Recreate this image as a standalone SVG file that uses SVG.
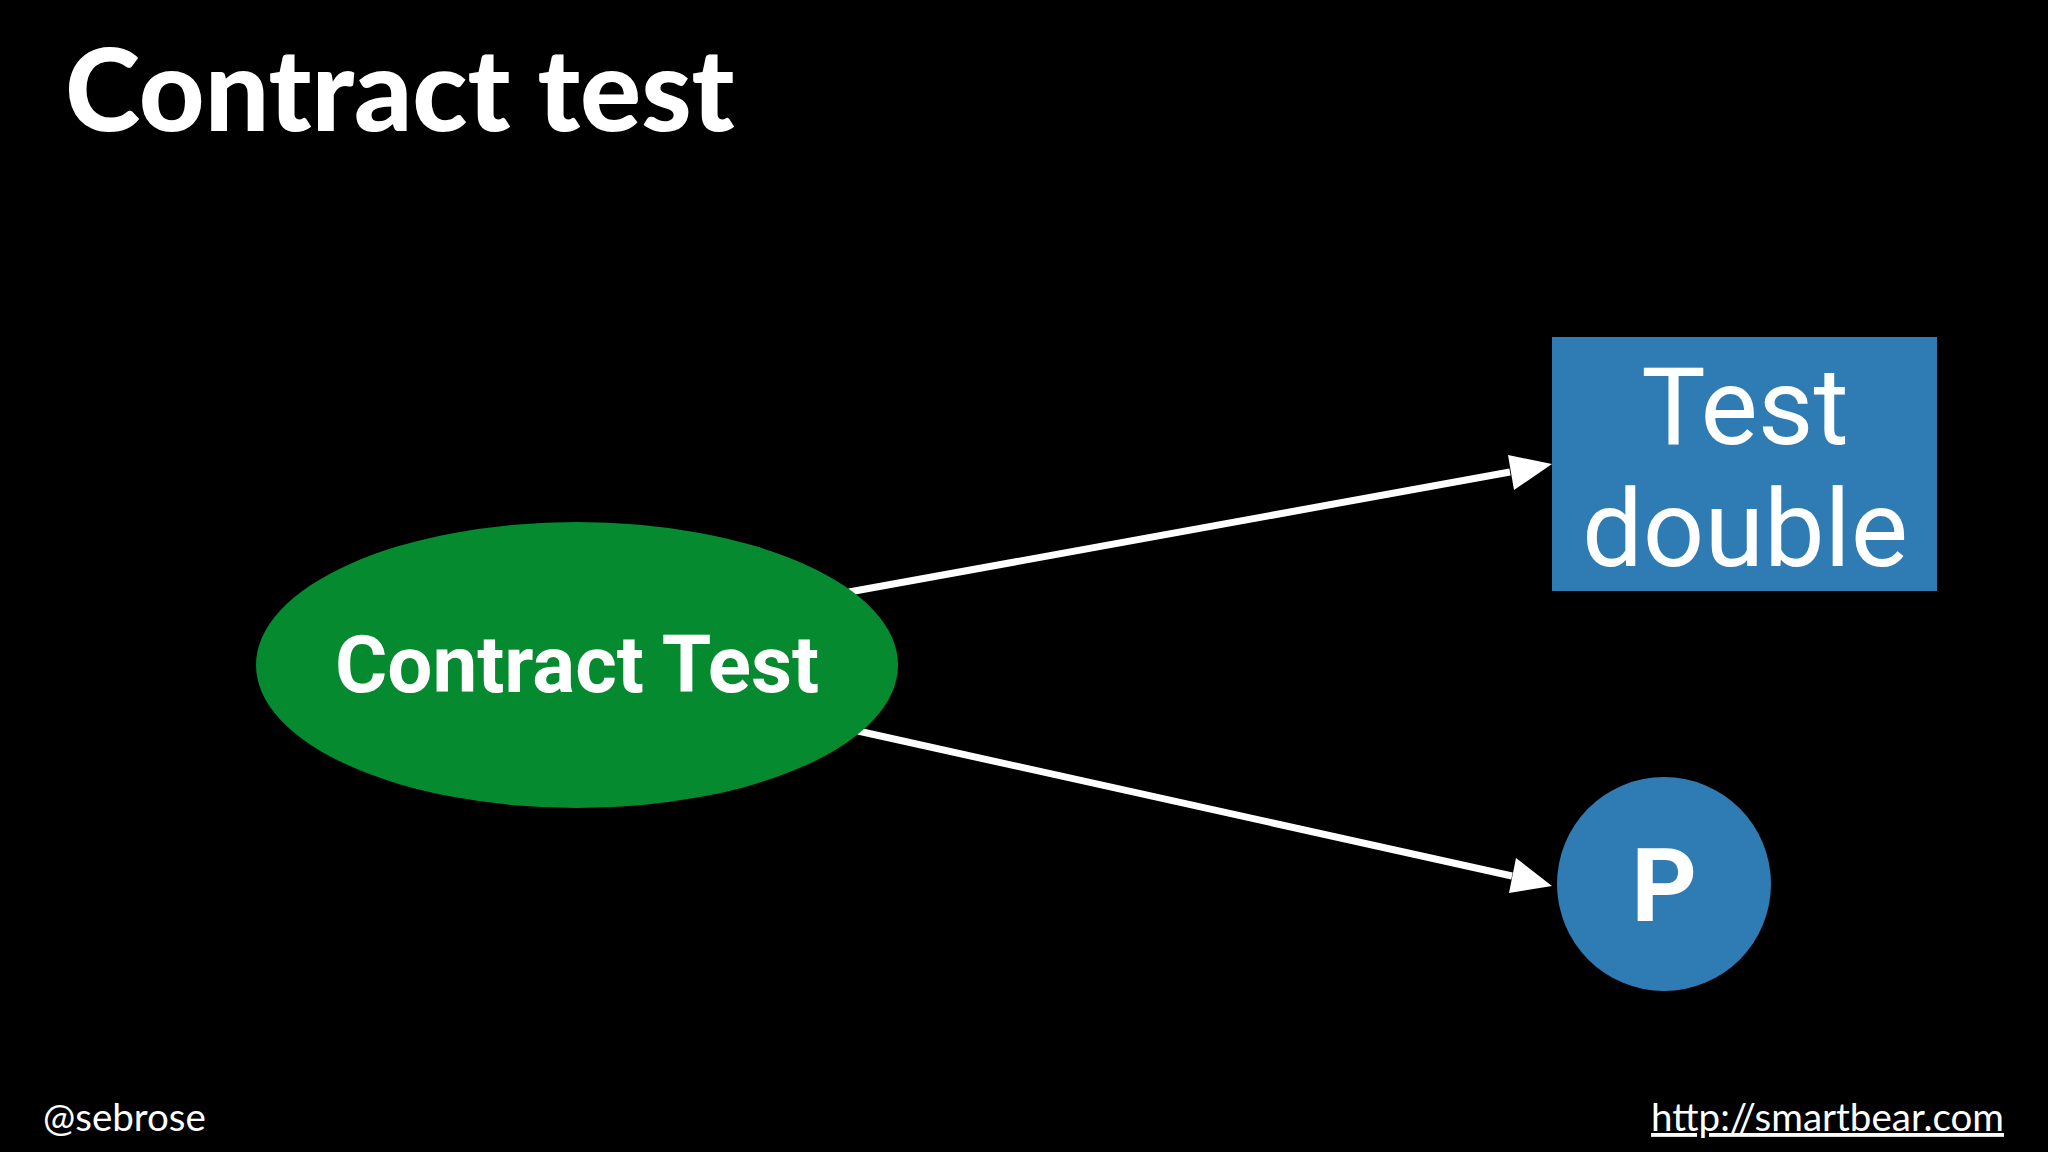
<svg xmlns="http://www.w3.org/2000/svg" width="2048" height="1152" viewBox="0 0 2048 1152">
<style>
.w{fill:#fff}
.lato{font-family:Lato,"Liberation Sans",sans-serif}
.rob{font-family:Roboto,"Liberation Sans",sans-serif}
.blue{fill:#2e7cb3}
</style>
<rect width="2048" height="1152" fill="#000"/>
<text class="w lato" x="65" y="131" font-size="114" font-weight="900">Contract test</text>
<g id="connectors" stroke="#fff" stroke-width="7" fill="none">
<line x1="849" y1="592" x2="1510" y2="472"/>
<path d="M1552,464 L1508,455 L1514,490 z" fill="#fff" stroke="none"/>
<line x1="858" y1="731" x2="1512" y2="876"/>
<path d="M1552,886 L1516,858 L1509,893 z" fill="#fff" stroke="none"/>
</g>
<g id="contract-test">
<ellipse cx="577" cy="665" rx="321" ry="143" fill="#058a2f"/>
<text class="w rob" x="577" y="692" font-size="80" font-weight="bold" text-anchor="middle">Contract Test</text>
</g>
<g id="test-double">
<rect class="blue" x="1552" y="337" width="385" height="254"/>
<text class="w rob" x="1745" y="444" font-size="108" text-anchor="middle">Test</text>
<text class="w rob" x="1745" y="566" font-size="108" text-anchor="middle">double</text>
</g>
<g id="p">
<circle class="blue" cx="1664" cy="884" r="107"/>
<text class="w rob" x="1664" y="921" font-size="102" font-weight="bold" text-anchor="middle">P</text>
</g>
<text class="w lato" x="43" y="1131" font-size="38.5">@sebrose</text>
<text class="w lato" x="2004" y="1131" font-size="38.5" text-anchor="end" text-decoration="underline">http://smartbear.com</text>
</svg>
